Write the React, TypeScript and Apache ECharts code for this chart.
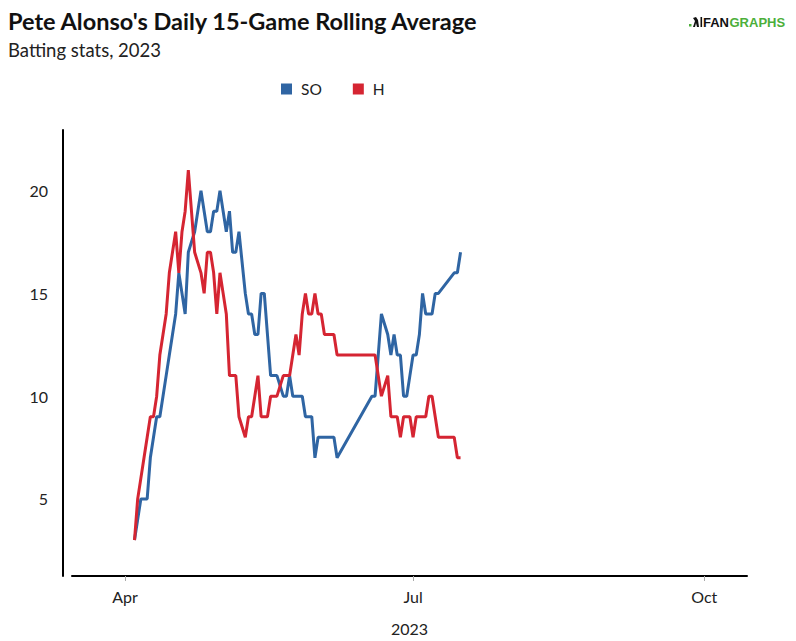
import React, { useEffect, useRef } from "react";
import * as echarts from "echarts";

const dates = [
  "2023-04-04", "2023-04-05", "2023-04-06", "2023-04-07", "2023-04-08", "2023-04-09", "2023-04-10", "2023-04-11",
  "2023-04-12", "2023-04-13", "2023-04-14", "2023-04-15", "2023-04-16", "2023-04-17", "2023-04-18", "2023-04-19",
  "2023-04-20", "2023-04-21", "2023-04-23", "2023-04-25", "2023-04-26", "2023-04-27", "2023-04-28", "2023-04-29",
  "2023-04-30", "2023-05-01", "2023-05-02", "2023-05-03", "2023-05-04", "2023-05-05", "2023-05-06", "2023-05-07",
  "2023-05-09", "2023-05-10", "2023-05-11", "2023-05-12", "2023-05-13", "2023-05-14", "2023-05-15", "2023-05-16",
  "2023-05-17", "2023-05-18", "2023-05-19", "2023-05-21", "2023-05-22", "2023-05-23", "2023-05-24", "2023-05-25",
  "2023-05-26", "2023-05-27", "2023-05-28", "2023-05-29", "2023-05-30", "2023-05-31", "2023-06-01", "2023-06-02",
  "2023-06-03", "2023-06-04", "2023-06-05", "2023-06-06", "2023-06-07", "2023-06-18", "2023-06-19", "2023-06-20",
  "2023-06-21", "2023-06-23", "2023-06-24", "2023-06-25", "2023-06-26", "2023-06-27", "2023-06-28", "2023-06-29",
  "2023-06-30", "2023-07-01", "2023-07-02", "2023-07-03", "2023-07-04", "2023-07-05", "2023-07-06", "2023-07-07",
  "2023-07-08", "2023-07-09", "2023-07-14", "2023-07-15", "2023-07-16",
];

const soValues = [
  3, 4, 5, 5, 5, 7, 8, 9,
  9, 10, 11, 12, 13, 14, 16, 15,
  14, 17, 18, 20, 19, 18, 18, 19,
  19, 20, 19, 18, 19, 17, 17, 18,
  15, 14, 14, 13, 13, 15, 15, 13,
  11, 11, 11, 10, 10, 11, 10, 10,
  10, 10, 9, 9, 9, 7, 8, 8,
  8, 8, 8, 8, 7, 10, 10, 12,
  14, 13, 12, 13, 12, 12, 10, 10,
  11, 12, 12, 13, 15, 14, 14, 14,
  15, 15, 16, 16, 17,
];

const hValues = [
  3, 5, 6, 7, 8, 9, 9, 10,
  12, 13, 14, 16, 17, 18, 16, 18,
  19, 21, 17, 16, 15, 17, 17, 16,
  14, 16, 15, 14, 11, 11, 11, 9,
  8, 9, 9, 10, 11, 9, 9, 9,
  10, 10, 10, 11, 11, 11, 12, 13,
  12, 14, 15, 14, 14, 15, 14, 14,
  13, 13, 13, 13, 12, 12, 12, 11,
  10, 11, 9, 9, 9, 8, 9, 9,
  9, 8, 9, 9, 9, 9, 10, 10,
  9, 8, 8, 7, 7,
];

const seriesNames = ["SO", "H"];
const seriesColors = ["#2f65a3", "#d52532"];
const xRange = ["2023-03-15T06:00:00", "2023-10-14T12:00:00"];
const xTickDates = ["2023-04-01", "2023-07-01", "2023-10-01"];
const xTickLabels = ["Apr", "Jul", "Oct"];
const yTickValues = [5, 10, 15, 20];
const titleText = "Pete Alonso's Daily 15-Game Rolling Average";
const subtitleText = "Batting stats, 2023";
const xAxisName = "2023";

const toTs = (d: string) => new Date(d.length <= 10 ? d + "T00:00:00" : d).getTime();

export default function App() {
  const ref = useRef<HTMLDivElement>(null);

  useEffect(() => {
    if (!ref.current) return;
    const chart = echarts.init(ref.current, null, { renderer: "svg" });
    const tickTs = xTickDates.map(toTs);
    const font = "Lato";

    chart.setOption({
      animation: false,
      backgroundColor: "#ffffff",
      textStyle: { fontFamily: font },
      title: [
        {
          text: titleText,
          left: 3,
          top: 4,
          textStyle: { fontFamily: font, fontSize: 23.5, fontWeight: "bold", color: "#111111" },
        },
        {
          text: subtitleText,
          left: 3,
          top: 35,
          textStyle: { fontFamily: font, fontSize: 18.5, fontWeight: "normal", color: "#222222" },
        },
      ],
      legend: {
        left: 281,
        top: 81,
        padding: 0,
        itemWidth: 11,
        itemHeight: 11,
        itemGap: 31,
        icon: "rect",
        data: seriesNames,
        textStyle: { fontFamily: font, fontSize: 15.5, color: "#222222", padding: [0, 0, 0, 4] },
      },
      grid: { left: 72, right: 49, top: 130, bottom: 64 },
      xAxis: {
        type: "value",
        min: toTs(xRange[0]),
        max: toTs(xRange[1]),
        name: xAxisName,
        nameLocation: "middle",
        nameGap: 44,
        nameTextStyle: { fontFamily: font, fontSize: 16, color: "#222222" },
        axisLine: { show: true, lineStyle: { color: "#000000", width: 2 } },
        axisTick: { show: true, customValues: tickTs, length: 5, lineStyle: { color: "#aaaaaa", width: 1 } },
        axisLabel: {
          customValues: tickTs,
          margin: 12,
          fontSize: 16,
          color: "#222222",
          fontFamily: font,
          formatter: (v: number) => {
            const idx = tickTs.findIndex((t) => Math.abs(t - v) < 86400000);
            return idx >= 0 ? xTickLabels[idx] : "";
          },
        },
        splitLine: { show: false },
      },
      yAxis: {
        type: "value",
        min: 1.25,
        max: 22.95,
        offset: 9,
        axisLine: { show: true, lineStyle: { color: "#000000", width: 2 } },
        axisTick: { show: false },
        splitLine: { show: false },
        axisLabel: {
          customValues: yTickValues,
          margin: 15,
          fontSize: 16,
          color: "#222222",
          fontFamily: font,
        },
      },
      series: seriesNames.map((name, si) => ({
        name,
        type: "line",
        showSymbol: false,
        symbol: "none",
        smooth: false,
        color: seriesColors[si],
        lineStyle: { width: 3, color: seriesColors[si] },
        data: dates.map((d, i) => [toTs(d), (si === 0 ? soValues : hValues)[i]]),
      })),
      graphic: [
        { type: "rect", shape: { x: 689, y: 24, width: 2.5, height: 2.5 }, style: { fill: "#4caf3a" } },
        {
          type: "polygon",
          shape: { points: [[693, 27], [695, 21], [693, 18], [696, 17], [698, 20], [699, 27], [697, 27], [696, 23], [695, 27]] },
          style: { fill: "#111111" },
        },
        { type: "rect", shape: { x: 700.5, y: 17, width: 1.6, height: 10 }, style: { fill: "#111111" } },
        {
          type: "text",
          left: 703,
          top: 15.5,
          style: { text: "FAN", fill: "#111111", font: "bold 13px 'Liberation Sans', Arial, sans-serif" },
        },
        {
          type: "text",
          left: 729.5,
          top: 15.5,
          style: { text: "GRAPHS", fill: "#4caf3a", font: "bold 13px 'Liberation Sans', Arial, sans-serif" },
        },
      ],
    });

    return () => chart.dispose();
  }, []);

  return (
    <div
      ref={ref}
      style={{ position: "absolute", left: 0, top: 0, width: 796, height: 641, background: "#ffffff" }}
    />
  );
}
